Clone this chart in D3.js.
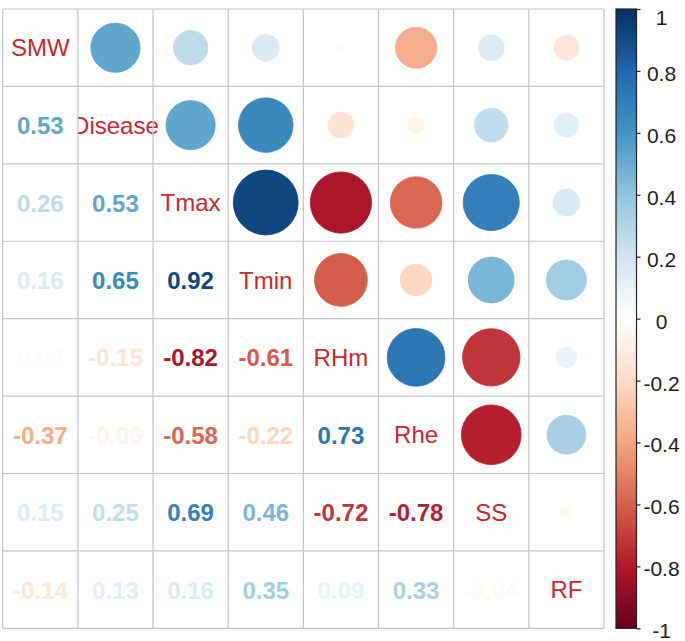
<!DOCTYPE html>
<html>
<head>
<meta charset="utf-8">
<script src="https://cdn.jsdelivr.net/npm/d3@7"></script>
<style>
  html, body { margin: 0; padding: 0; background: #ffffff; }
  svg { display: block; }
</style>
</head>
<body>
<svg id="chart" width="685" height="641"></svg>
<script>
// ---- data ----
const variables = ["SMW", "Disease", "Tmax", "Tmin", "RHm", "Rhe", "SS", "RF"];
// lower-triangle correlations, row by row (row i has i values)
const lowerRows = [
  [],
  [0.53],
  [0.26, 0.53],
  [0.16, 0.65, 0.92],
  [0.02, -0.15, -0.82, -0.61],
  [-0.37, -0.06, -0.58, -0.22, 0.73],
  [0.15, 0.25, 0.69, 0.46, -0.72, -0.78],
  [-0.14, 0.13, 0.16, 0.35, 0.09, 0.33, -0.04]
];
const legendTicks = [-1, -0.8, -0.6, -0.4, -0.2, 0, 0.2, 0.4, 0.6, 0.8, 1];
const paletteColors = ["#67001F", "#B2182B", "#D6604D", "#F4A582", "#FDDBC7", "#FFFFFF",
                       "#D1E5F0", "#92C5DE", "#4393C3", "#2166AC", "#053061"];

// ---- build full matrix ----
const n = variables.length;
const corr = variables.map((_, i) => variables.map((_, j) => {
  if (i === j) return 1;
  return i > j ? lowerRows[i][j] : lowerRows[j][i];
}));

const svg = d3.select("#chart");
const W = 685, H = 641;
svg.append("rect").attr("width", W).attr("height", H).attr("fill", "#fff");

const gx0 = 2.7, gx1 = 604, gy0 = 9, gy1 = 628.3;
const x = d3.scaleBand().domain(d3.range(n)).range([gx0, gx1]).padding(0);
const y = d3.scaleBand().domain(d3.range(n)).range([gy0, gy1]).padding(0);
const cw = x.bandwidth(), ch = y.bandwidth();

const color = d3.scaleLinear()
  .domain(d3.range(paletteColors.length).map(i => -1 + 2 * i / (paletteColors.length - 1)))
  .range(paletteColors)
  .interpolate(d3.interpolateRgb);

const cells = [];
for (let i = 0; i < n; i++) for (let j = 0; j < n; j++) cells.push({ i, j, v: corr[i][j] });

const rMax = 0.45 * Math.min(cw, ch);
const rScale = d3.scaleSqrt().domain([0, 1]).range([0, rMax]);

// upper triangle circles
svg.append("g").selectAll("circle")
  .data(cells.filter(d => d.j > d.i))
  .join("circle")
  .attr("cx", d => x(d.j) + cw / 2)
  .attr("cy", d => y(d.i) + ch / 2)
  .attr("r", d => rScale(Math.abs(d.v)))
  .attr("fill", d => color(d.v))
  .attr("stroke", d => color(d.v))
  .attr("stroke-width", 0.8);

// diagonal labels
const fontFam = "'Liberation Sans', Arial, sans-serif";
svg.append("g").selectAll("text")
  .data(cells.filter(d => d.j === d.i))
  .join("text")
  .attr("x", d => x(d.j) + cw / 2)
  .attr("y", d => y(d.i) + ch / 2)
  .attr("dy", "0.36em")
  .attr("text-anchor", "middle")
  .attr("font-family", fontFam)
  .attr("font-size", 24)
  .attr("fill", "#c8282e")
  .text(d => variables[d.i]);

// lower triangle white backgrounds + numbers
const lower = cells.filter(d => d.j < d.i);
svg.append("g").selectAll("rect")
  .data(lower)
  .join("rect")
  .attr("x", d => x(d.j))
  .attr("y", d => y(d.i))
  .attr("width", cw)
  .attr("height", ch)
  .attr("fill", "#fff");

svg.append("g").selectAll("text")
  .data(lower)
  .join("text")
  .attr("x", d => x(d.j) + cw / 2)
  .attr("y", d => y(d.i) + ch / 2)
  .attr("dy", "0.38em")
  .attr("text-anchor", "middle")
  .attr("font-family", fontFam)
  .attr("font-weight", "bold")
  .attr("font-size", 24)
  .attr("fill", d => color(d.v))
  .text(d => d.v.toFixed(2));

// grid lines
const grid = svg.append("g").attr("stroke", "#c4c4c4").attr("stroke-width", 1.2);
grid.selectAll("line.v")
  .data(d3.range(n + 1))
  .join("line")
  .attr("class", "v")
  .attr("x1", k => k < n ? x(k) : gx1)
  .attr("x2", k => k < n ? x(k) : gx1)
  .attr("y1", gy0).attr("y2", gy1);
grid.selectAll("line.h")
  .data(d3.range(n + 1))
  .join("line")
  .attr("class", "h")
  .attr("y1", k => k < n ? y(k) : gy1)
  .attr("y2", k => k < n ? y(k) : gy1)
  .attr("x1", gx0).attr("x2", gx1);

// colour legend
const lx0 = 616, lx1 = 636.5;
const ly = d3.scaleLinear().domain([-1, 1]).range([gy1, gy0]);
const defs = svg.append("defs");
const grad = defs.append("linearGradient")
  .attr("id", "cbar").attr("x1", 0).attr("y1", 1).attr("x2", 0).attr("y2", 0);
grad.selectAll("stop")
  .data(paletteColors)
  .join("stop")
  .attr("offset", (d, i) => i / (paletteColors.length - 1))
  .attr("stop-color", d => d);

svg.append("rect")
  .attr("x", lx0).attr("y", gy0)
  .attr("width", lx1 - lx0).attr("height", gy1 - gy0)
  .attr("fill", "url(#cbar)")
  .attr("stroke", "#222").attr("stroke-width", 1.2);

const axis = d3.axisRight(ly)
  .tickValues(legendTicks)
  .tickSize(4)
  .tickSizeOuter(0)
  .tickFormat(d => String(+d.toFixed(1)));
const ag = svg.append("g").attr("transform", `translate(${lx1},0)`).call(axis);
ag.select(".domain").remove();
ag.selectAll(".tick line").attr("stroke", "#222").attr("stroke-width", 1.2);
ag.selectAll(".tick text")
  .attr("x", 25)
  .attr("dy", d => d === 1 ? "0.72em" : "0.45em")
  .attr("text-anchor", "middle")
  .attr("font-family", fontFam)
  .attr("font-size", 21)
  .attr("fill", "#222");
</script>
</body>
</html>
